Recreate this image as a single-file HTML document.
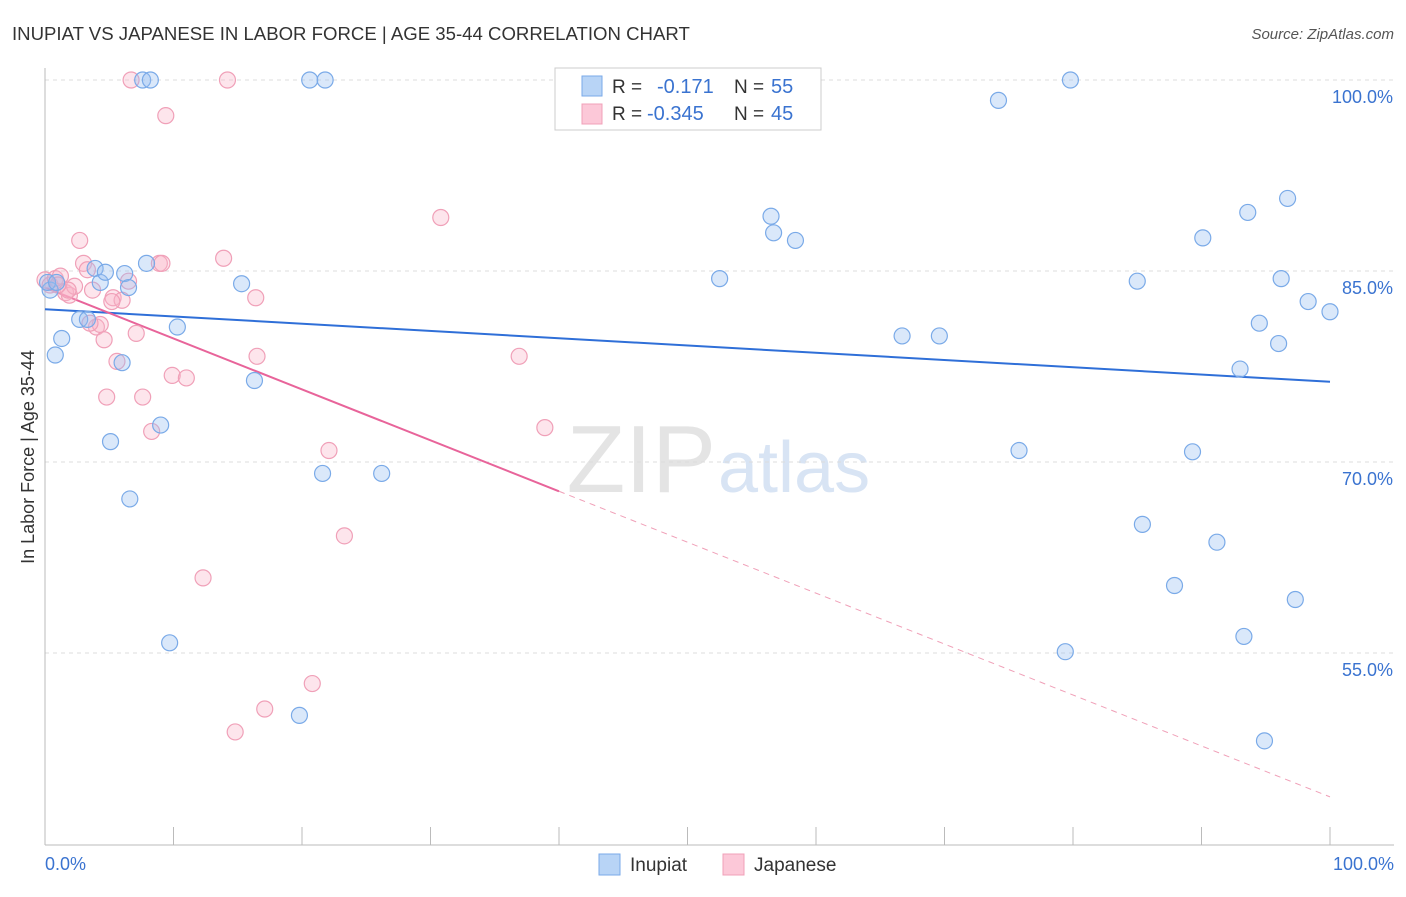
<!DOCTYPE html>
<html><head><meta charset="utf-8">
<style>
body{margin:0;background:#fff;font-family:"Liberation Sans",sans-serif;}
svg text{font-family:"Liberation Sans",sans-serif;}
</style></head>
<body>
<svg id="chart" width="1406" height="892" xmlns="http://www.w3.org/2000/svg">
<text x="12" y="40" font-size="18.6" fill="#333">INUPIAT VS JAPANESE IN LABOR FORCE | AGE 35-44 CORRELATION CHART</text>
<text x="1394" y="39" font-size="15" fill="#555" font-style="italic" text-anchor="end">Source: ZipAtlas.com</text>
<text x="716" y="492" font-size="96" fill="#e4e4e4" text-anchor="end" font-family="Liberation Serif">ZIP</text>
<text x="718" y="492" font-size="72" fill="#d8e4f4">atlas</text>
<text transform="translate(34,457) rotate(-90)" font-size="18" fill="#333" text-anchor="middle">In Labor Force | Age 35-44</text>
<g id="grid"></g><g id="trend"></g><g id="pts"></g>
<g>
<rect x="555" y="68" width="266" height="62" fill="#fff" stroke="#ccc"/>
<rect x="582" y="76" width="20" height="20" fill="#b8d4f6" stroke="#7aaae8"/>
<rect x="582" y="104" width="20" height="20" fill="#fcc8d8" stroke="#f0a0b8"/>
<text x="612" y="93" font-size="19" fill="#333">R = </text>
<text x="657" y="93" font-size="20" fill="#3a73d0">-0.171</text>
<text x="734" y="93" font-size="19" fill="#333">N = </text>
<text x="771" y="93" font-size="20" fill="#3a73d0">55</text>
<text x="612" y="120" font-size="19" fill="#333">R = </text>
<text x="647" y="120" font-size="20" fill="#3a73d0">-0.345</text>
<text x="734" y="120" font-size="19" fill="#333">N = </text>
<text x="771" y="120" font-size="20" fill="#3a73d0">45</text>
</g>
<g>
<rect x="599" y="854" width="21" height="21" fill="#b8d4f6" stroke="#7aaae8"/>
<text x="630" y="871" font-size="19" fill="#333">Inupiat</text>
<rect x="723" y="854" width="21" height="21" fill="#fcc8d8" stroke="#f0a0b8"/>
<text x="754" y="871" font-size="19" fill="#333">Japanese</text>
</g>
</svg>
<script>
const blueX=[0.4,0.8,1.3,2.7,3.3,3.9,4.3,4.7,5.1,6.0,6.2,6.5,6.6,7.6,7.9,8.2,9.0,9.7,10.3,15.3,16.3,19.8,20.6,21.6,21.8,26.2,52.5,56.5,56.7,58.4,66.7,69.6,74.2,75.8,79.4,79.8,85.0,85.4,87.9,89.3,90.1,91.2,93.0,93.3,93.6,94.5,94.9,96.0,96.2,96.7,97.3,98.3,100,0.2,0.9];
const blueY=[83.5,78.4,79.7,81.2,81.2,85.2,84.1,84.9,71.6,77.8,84.8,83.7,67.1,100,85.6,100,72.9,55.8,80.6,84.0,76.4,50.1,100,69.1,100,69.1,84.4,89.3,88.0,87.4,79.9,79.9,98.4,70.9,55.1,100,84.2,65.1,60.3,70.8,87.6,63.7,77.3,56.3,89.6,80.9,48.1,79.3,84.4,90.7,59.2,82.6,81.8,84.1,84.1];
const pinkX=[0,0.4,0.8,1.2,1.6,1.9,2.3,2.7,3.0,3.3,3.7,4.0,4.3,4.6,4.8,5.3,5.6,6.0,6.5,6.7,7.1,7.6,8.3,8.9,9.1,9.4,9.9,11.0,12.3,13.9,14.2,14.8,16.4,16.5,17.1,20.8,22.1,23.3,30.8,36.9,38.9,1.8,3.5,5.2,1.0];
const pinkY=[84.3,83.9,84.4,84.6,83.3,83.1,83.8,87.4,85.6,85.1,83.5,80.6,80.8,79.6,75.1,82.9,77.9,82.7,84.2,100,80.1,75.1,72.4,85.6,85.6,97.2,76.8,76.6,60.9,86.0,100,48.8,82.9,78.3,50.6,52.6,70.9,64.2,89.2,78.3,72.7,83.5,80.9,82.6,83.9];
const yTicks=[100,85,70,55];
const xTicks=[0,10,20,30,40,50,60,70,80,90,100];
const blueTrend=[82.0,76.3];
const pinkTrend=[83.7,43.7];
const pinkSolidEnd=40;
const NS="http://www.w3.org/2000/svg";
const sx=v=>45+v*12.85;
const sy=v=>80+(100-v)*12.733;
function mk(t,a,p){const e=document.createElementNS(NS,t);for(const k in a)e.setAttribute(k,a[k]);p.appendChild(e);return e;}
const grid=document.getElementById('grid');
yTicks.forEach(t=>{
 const l=mk('line',{x1:45,x2:1394,y1:sy(t),y2:sy(t),stroke:'#ddd','stroke-dasharray':'4,4'},grid);
 
 
 const tx=mk('text',{x:1393,y:sy(t)+23,'font-size':18,fill:'#3a73d0','text-anchor':'end'},grid);
 tx.textContent=t.toFixed(1)+'%';
 
 
});
const ax=mk('line',{x1:45,x2:1394,y1:845,y2:845,stroke:'#bbb'},grid);


const ay=mk('line',{x1:45,x2:45,y1:68,y2:845,stroke:'#bbb'},grid);


xTicks.forEach(t=>{
 const l=mk('line',{x1:sx(t),x2:sx(t),y1:827,y2:845,stroke:'#bbb'},grid);
 
 
});
[[0,'0.0%','start',45],[100,'100.0%','end',1394]].forEach(a=>{
 const tx=mk('text',{x:a[3],y:870,'font-size':18,fill:'#3a73d0','text-anchor':a[2]},grid);
 tx.textContent=a[1];
 
 
});
const pts=document.getElementById('pts');
pinkX.forEach((x,i)=>{
 const c=mk('circle',{cx:sx(x),cy:sy(pinkY[i]),r:8,fill:'rgba(248,180,200,0.35)',stroke:'#f0a0b8','stroke-width':1.2},pts);
 
 
});
blueX.forEach((x,i)=>{
 const c=mk('circle',{cx:sx(x),cy:sy(blueY[i]),r:8,fill:'rgba(150,190,240,0.35)',stroke:'#7aaae8','stroke-width':1.2},pts);
 
 
});
const tr=document.getElementById('trend');
const bl=mk('line',{x1:sx(0),y1:sy(blueTrend[0]),x2:sx(100),y2:sy(blueTrend[1]),stroke:'#2f6fd8','stroke-width':2},tr);


const pAt=x=>pinkTrend[0]+(pinkTrend[1]-pinkTrend[0])*x/100;
const ps=mk('line',{x1:sx(0),y1:sy(pAt(0)),x2:sx(pinkSolidEnd),y2:sy(pAt(pinkSolidEnd)),stroke:'#e8649a','stroke-width':2},tr);


const pd=mk('line',{x1:sx(pinkSolidEnd),y1:sy(pAt(pinkSolidEnd)),x2:sx(100),y2:sy(pAt(100)),stroke:'#f0a0b8','stroke-width':1,'stroke-dasharray':'6,5'},tr);


</script>
</body></html>
